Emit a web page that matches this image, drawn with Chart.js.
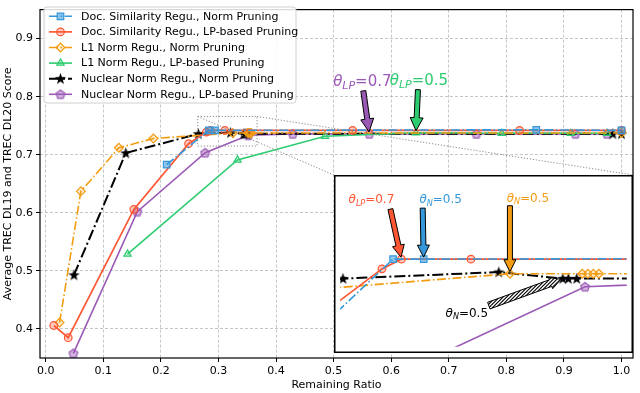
<!DOCTYPE html>
<html>
<head>
<meta charset="utf-8">
<script src="https://cdn.jsdelivr.net/npm/chart.js@4.4.0/dist/chart.umd.min.js"></script>
<style>
  body { margin: 0; background: #fff; }
  #wrap { position: relative; width: 640px; height: 393px; }
  #insetChart { position: absolute; left: 334px; top: 175px; }
</style>
</head>
<body>
<div id="wrap">
  <canvas id="mainChart" width="640" height="393"></canvas>
  <canvas id="insetChart" width="299" height="178"></canvas>
</div>
<script>
// series values
const seriesNames = [
  'Doc. Similarity Regu., Norm Pruning',
  'Doc. Similarity Regu., LP-based Pruning',
  'L1 Norm Regu., Norm Pruning',
  'L1 Norm Regu., LP-based Pruning',
  'Nuclear Norm Regu., Norm Pruning',
  'Nuclear Norm Regu., LP-based Pruning'
];
const docNormX = [0.21, 0.283, 0.294, 0.852, 1.0];
const docNormY = [0.683, 0.742, 0.742, 0.743, 0.742];
const docLpX = [0.014, 0.039, 0.153, 0.248, 0.279, 0.286, 0.311, 0.533, 0.823, 1.0];
const docLpY = [0.406, 0.385, 0.606, 0.719, 0.739, 0.742, 0.742, 0.742, 0.742, 0.742];
const l1NormX = [0.024, 0.061, 0.127, 0.187, 0.325, 0.351, 0.353, 0.355, 0.357, 1.0];
const l1NormY = [0.411, 0.637, 0.712, 0.728, 0.7375, 0.7375, 0.7375, 0.7375, 0.7375, 0.7375];
const l1LpX = [0.142, 0.333, 0.485, 0.643, 0.792, 0.912, 0.975];
const l1LpY = [0.529, 0.691, 0.732, 0.738, 0.737, 0.737, 0.737];
const nucNormX = [0.049, 0.139, 0.265, 0.321, 0.344, 0.346, 0.349, 0.985, 1.0];
const nucNormY = [0.493, 0.703, 0.736, 0.738, 0.736, 0.736, 0.736, 0.736, 0.736];
const nucLpX = [0.048, 0.159, 0.277, 0.352, 0.429, 0.562, 0.748, 0.92, 0.975];
const nucLpY = [0.358, 0.602, 0.7035, 0.7335, 0.736, 0.736, 0.736, 0.736, 0.736];

const xTicks = [0.0, 0.1, 0.2, 0.3, 0.4, 0.5, 0.6, 0.7, 0.8, 0.9, 1.0];
const yTicks = [0.4, 0.5, 0.6, 0.7, 0.8, 0.9];
const xRange = [-0.01, 1.02];
const yRange = [0.35, 0.95];
const zoomX = [0.264, 0.367];
const zoomY = [0.715, 0.766];

const seriesX = [docNormX, docLpX, l1NormX, l1LpX, nucNormX, nucLpX];
const seriesY = [docNormY, docLpY, l1NormY, l1LpY, nucNormY, nucLpY];

Chart.defaults.font.family = "'DejaVu Sans', sans-serif";
Chart.defaults.font.size = 11;
Chart.defaults.color = '#000';

// custom markers (star and pentagon)
function markerCanvas(size, draw) {
  const c = document.createElement('canvas');
  c.width = size; c.height = size;
  draw(c.getContext('2d'), size / 2);
  return c;
}
const starImg = markerCanvas(13, (g, m) => {
  g.beginPath();
  for (let i = 0; i < 10; i++) {
    const r = i % 2 ? 2.4 : 6;
    const a = -Math.PI / 2 + i * Math.PI / 5;
    g.lineTo(m + r * Math.cos(a), m + 0.3 + r * Math.sin(a));
  }
  g.closePath();
  g.fillStyle = '#000';
  g.fill();
});
const pentImg = markerCanvas(12, (g, m) => {
  g.beginPath();
  for (let i = 0; i < 5; i++) {
    const a = -Math.PI / 2 + i * 2 * Math.PI / 5;
    g.lineTo(m + 4.6 * Math.cos(a), m + 0.4 + 4.6 * Math.sin(a));
  }
  g.closePath();
  g.fillStyle = 'rgba(155,89,182,0.45)';
  g.fill();
  g.lineWidth = 1.2;
  g.strokeStyle = '#9b59b6';
  g.stroke();
});

const styles = [
  { color: '#3498db', fill: 'rgba(52,152,219,0.55)', dash: [9, 2.5, 1.6, 2.5], width: 1.6, point: 'rect', radius: 4.6 },
  { color: '#ff5733', fill: 'rgba(255,87,51,0.3)', dash: [], width: 1.7, point: 'circle', radius: 3.8 },
  { color: '#f39c12', fill: 'rgba(243,156,18,0.2)', dash: [9, 2.5, 1.6, 2.5], width: 1.6, point: 'rectRot', radius: 4.4 },
  { color: '#2ecc71', fill: 'rgba(46,204,113,0.25)', dash: [], width: 1.6, point: 'triangle', radius: 4.2 },
  { color: '#000000', fill: '#000000', dash: [11, 3, 2, 3], width: 2, point: starImg, radius: 5 },
  { color: '#9b59b6', fill: 'rgba(155,89,182,0.45)', dash: [], width: 1.6, point: pentImg, radius: 5 }
];

function makeDatasets() {
  return seriesNames.map((name, i) => ({
    label: name,
    data: seriesX[i].map((x, j) => ({ x: x, y: seriesY[i][j] })),
    borderColor: styles[i].color,
    backgroundColor: styles[i].fill,
    borderWidth: styles[i].width,
    borderDash: styles[i].dash,
    pointStyle: styles[i].point,
    pointRadius: styles[i].radius,
    pointBorderWidth: 1.2,
    pointBorderColor: styles[i].color,
    pointBackgroundColor: styles[i].fill,
    tension: 0,
    fill: false
  }));
}

function arrowPath(ctx, x0, y0, x1, y1, o) {
  const len = Math.hypot(x1 - x0, y1 - y0);
  const ux = (x1 - x0) / len, uy = (y1 - y0) / len;
  const nx = -uy, ny = ux;
  const sw = o.shaft / 2, hw = o.headW / 2;
  const bx = x1 - ux * o.headL, by = y1 - uy * o.headL;
  ctx.beginPath();
  ctx.moveTo(x0 + nx * sw, y0 + ny * sw);
  ctx.lineTo(bx + nx * sw, by + ny * sw);
  ctx.lineTo(bx + nx * hw, by + ny * hw);
  ctx.lineTo(x1, y1);
  ctx.lineTo(bx - nx * hw, by - ny * hw);
  ctx.lineTo(bx - nx * sw, by - ny * sw);
  ctx.lineTo(x0 - nx * sw, y0 - ny * sw);
  ctx.closePath();
}

function drawArrow(ctx, x0, y0, x1, y1, o) {
  ctx.save();
  ctx.setLineDash([]);
  arrowPath(ctx, x0, y0, x1, y1, o);
  ctx.fillStyle = o.fill;
  ctx.fill();
  if (o.hatch) {
    ctx.save();
    ctx.clip();
    ctx.strokeStyle = '#000';
    ctx.lineWidth = 1.1;
    const minX = Math.min(x0, x1) - 20, maxX = Math.max(x0, x1) + 20;
    const minY = Math.min(y0, y1) - 20, maxY = Math.max(y0, y1) + 20;
    ctx.beginPath();
    for (let k = minX - (maxY - minY); k < maxX; k += 3.6) {
      ctx.moveTo(k, maxY);
      ctx.lineTo(k + (maxY - minY), minY);
    }
    ctx.stroke();
    ctx.restore();
    arrowPath(ctx, x0, y0, x1, y1, o);
  }
  ctx.lineWidth = 1;
  ctx.strokeStyle = '#000';
  ctx.stroke();
  ctx.restore();
}

function drawTheta(ctx, cx, base, sub, rest, size, color) {
  const fam = "'DejaVu Sans', sans-serif";
  const f1 = 'italic ' + size + 'px ' + fam;
  const f2 = 'italic ' + Math.round(size * 0.7) + 'px ' + fam;
  const f3 = size + 'px ' + fam;
  ctx.save();
  ctx.fillStyle = color;
  ctx.textBaseline = 'alphabetic';
  ctx.textAlign = 'left';
  ctx.font = f1; const w1 = ctx.measureText('θ').width;
  ctx.font = f2; const w2 = ctx.measureText(sub).width;
  ctx.font = f3; const w3 = ctx.measureText(rest).width;
  let x = cx - (w1 + w2 + w3) / 2;
  ctx.font = f1; ctx.fillText('θ', x, base); x += w1;
  ctx.font = f2; ctx.fillText(sub, x, base + size * 0.22); x += w2;
  ctx.font = f3; ctx.fillText(rest, x, base);
  ctx.restore();
}

// annotation layout: which point, label, offsets from the point (px)
const mainNotes = [
  { s: 5, i: 5, sub: 'LP', rest: '=0.7', color: '#9b59b6', tx: -7, ty: -48, ax: -6, ay: -43, fill: '#9b59b6' },
  { s: 3, i: 3, sub: 'LP', rest: '=0.5', color: '#2ecc71', tx: 3, ty: -48, ax: 2, ay: -43, fill: '#2ecc71' }
];
const insetNotes = [
  { s: 1, i: 5, sub: 'LP', rest: '=0.7', color: '#ff5733', tx: -30, ty: -56, ax: -11, ay: -50, fill: '#ff5733' },
  { s: 0, i: 2, sub: 'N', rest: '=0.5', color: '#3498db', tx: 17, ty: -56, ax: -1, ay: -51, fill: '#3498db' },
  { s: 2, i: 4, sub: 'N', rest: '=0.5', color: '#f39c12', tx: 18, ty: -72, ax: 0, ay: -68, fill: '#f39c12' },
  { s: 4, i: 4, sub: 'N', rest: '=0.5', color: '#000', tx: -96, ty: 38, ax: -74, ay: 27, fill: '#fff', hatch: true }
];

function drawNotes(chart, notes, size, arrow) {
  const ctx = chart.ctx;
  notes.forEach(n => {
    const px = chart.scales.x.getPixelForValue(seriesX[n.s][n.i]);
    const py = chart.scales.y.getPixelForValue(seriesY[n.s][n.i]);
    const tx0 = px + n.ax, ty0 = py + n.ay;
    const len = Math.hypot(px - tx0, py - ty0);
    const shrink = 2;
    const ex = px - (px - tx0) / len * shrink, ey = py - (py - ty0) / len * shrink;
    drawArrow(ctx, tx0, ty0, ex, ey, Object.assign({ fill: n.fill, hatch: n.hatch }, arrow, n.hatch ? { shaft: 7, headW: 12, headL: 11 } : {}));
    drawTheta(ctx, px + n.tx, py + n.ty, n.sub, n.rest, size, n.color);
  });
}

const insetBox = { left: 334, top: 175, right: 633, bottom: 353 };

const mainExtras = {
  id: 'mainExtras',
  afterDraw(chart) {
    const ctx = chart.ctx;
    const a = chart.chartArea;
    const xs = chart.scales.x, ys = chart.scales.y;
    ctx.save();
    // zoom rectangle + connectors
    const rl = xs.getPixelForValue(zoomX[0]), rr = xs.getPixelForValue(zoomX[1]);
    const rt = ys.getPixelForValue(zoomY[1]), rb = ys.getPixelForValue(zoomY[0]);
    ctx.strokeStyle = '#8a8a8a';
    ctx.lineWidth = 1;
    ctx.setLineDash([1.2, 1.8]);
    ctx.strokeRect(rl, rt, rr - rl, rb - rt);
    ctx.beginPath();
    ctx.moveTo(rl, rt); ctx.lineTo(insetBox.left, insetBox.top);
    ctx.moveTo(rr, rt); ctx.lineTo(insetBox.right, insetBox.top);
    ctx.stroke();
    ctx.setLineDash([]);
    // axes frame
    ctx.strokeStyle = '#000';
    ctx.lineWidth = 1.2;
    ctx.strokeRect(a.left, a.top, a.right - a.left, a.bottom - a.top);
    ctx.restore();

    drawNotes(chart, mainNotes, 15, { shaft: 5, headW: 13, headL: 13 });

    // legend
    ctx.save();
    const lx = 44, ly = 7, lw = 252, lh = 96;
    ctx.beginPath();
    ctx.roundRect(lx, ly, lw, lh, 3);
    ctx.fillStyle = 'rgba(255,255,255,0.85)';
    ctx.fill();
    ctx.strokeStyle = '#d0d0d0';
    ctx.lineWidth = 1;
    ctx.stroke();
    chart.data.datasets.forEach((ds, i) => {
      const y = 16.3 + i * 15.6;
      ctx.save();
      ctx.strokeStyle = ds.borderColor;
      ctx.lineWidth = ds.borderWidth;
      ctx.setLineDash(ds.borderDash);
      ctx.beginPath();
      ctx.moveTo(49, y); ctx.lineTo(72, y);
      ctx.stroke();
      ctx.setLineDash([]);
      ctx.strokeStyle = ds.pointBorderColor;
      ctx.fillStyle = ds.pointBackgroundColor;
      ctx.lineWidth = ds.pointBorderWidth;
      Chart.helpers.drawPoint(ctx, { pointStyle: ds.pointStyle, radius: ds.pointRadius, rotation: 0, borderWidth: ds.pointBorderWidth }, 60.5, y);
      ctx.restore();
      ctx.fillStyle = '#000';
      ctx.font = "11px 'DejaVu Sans', sans-serif";
      ctx.textBaseline = 'middle';
      ctx.fillText(ds.label, 81, y + 0.5);
    });
    ctx.restore();
  }
};

const gridColor = 'rgba(176,176,176,0.9)';

new Chart(document.getElementById('mainChart'), {
  type: 'line',
  data: { datasets: makeDatasets() },
  options: {
    responsive: false,
    animation: false,
    layout: { padding: { top: 2, right: 7, left: 0, bottom: 0 } },
    plugins: { legend: { display: false }, tooltip: { enabled: false } },
    scales: {
      x: {
        type: 'linear', min: xRange[0], max: xRange[1],
        afterBuildTicks: s => { s.ticks = xTicks.map(v => ({ value: v })); },
        afterFit: s => { s.height = 35; },
        ticks: { color: '#000', padding: 3, maxRotation: 0, callback: v => v.toFixed(1) },
        grid: { color: gridColor, lineWidth: 0.8, tickLength: 4, tickColor: '#000', tickWidth: 1, tickBorderDash: [] },
        border: { display: false, dash: [3, 2] },
        title: { display: true, text: 'Remaining Ratio', color: '#000', padding: { top: 0, bottom: 1.5 } }
      },
      y: {
        type: 'linear', min: yRange[0], max: yRange[1],
        afterBuildTicks: s => { s.ticks = yTicks.map(v => ({ value: v })); },
        afterFit: s => { s.width = 40; },
        ticks: { color: '#000', padding: 3, callback: v => v.toFixed(1) },
        grid: { color: gridColor, lineWidth: 0.8, tickLength: 4, tickColor: '#000', tickWidth: 1, tickBorderDash: [] },
        border: { display: false, dash: [3, 2] },
        title: { display: true, text: 'Average TREC DL19 and TREC DL20 Score', color: '#000', padding: { top: 1.5, bottom: 0 } }
      }
    }
  },
  plugins: [mainExtras]
});

const insetExtras = {
  id: 'insetExtras',
  beforeDraw(chart) {
    const ctx = chart.ctx;
    ctx.save();
    ctx.fillStyle = '#fff';
    ctx.fillRect(0, 0, chart.width, chart.height);
    ctx.restore();
  },
  afterDraw(chart) {
    drawNotes(chart, insetNotes, 12, { shaft: 5, headW: 12, headL: 12 });
    const ctx = chart.ctx;
    ctx.save();
    ctx.strokeStyle = '#000';
    ctx.lineWidth = 1.5;
    ctx.strokeRect(0.75, 0.75, chart.width - 1.5, chart.height - 1.5);
    ctx.restore();
  }
};

new Chart(document.getElementById('insetChart'), {
  type: 'line',
  data: { datasets: makeDatasets().map(d => Object.assign(d, { clip: 0 })) },
  options: {
    responsive: false,
    animation: false,
    layout: { padding: 0 },
    plugins: { legend: { display: false }, tooltip: { enabled: false } },
    scales: {
      x: { type: 'linear', min: zoomX[0], max: zoomX[1], display: false },
      y: { type: 'linear', min: zoomY[0], max: zoomY[1], display: false }
    }
  },
  plugins: [insetExtras]
});
</script>
</body>
</html>
